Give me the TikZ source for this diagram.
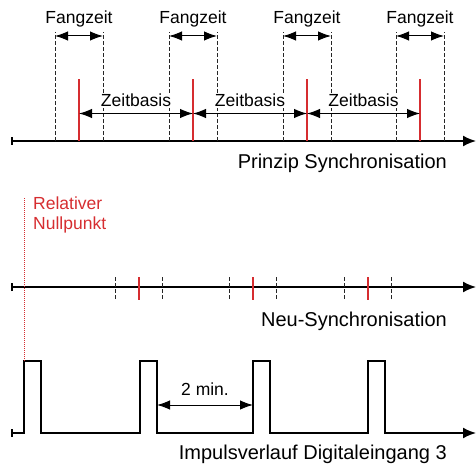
\documentclass[tikz,border=0pt]{standalone}
\usepackage{fontspec}
\setmainfont{Liberation Sans}
\usepackage{xcolor}
\usetikzlibrary{arrows.meta,calc}

\definecolor{syncred}{RGB}{214,45,48}

\tikzset{
  timeaxis/.style={line width=1.8pt,{Bar[width=8pt]}-{Latex[length=13pt,width=11pt]}},
  redline/.style={syncred,line width=1.5pt},
  fangline/.style={black!85,line width=0.9pt,dash pattern=on 3.5pt off 2.5pt},
  dimarrow/.style={line width=1pt,{Latex[length=13pt,width=9.5pt]}-{Latex[length=13pt,width=9.5pt]}},
  lbl/.style={font=\fontsize{17.5}{19.5}\selectfont,inner sep=1pt},
  biglbl/.style={font=\fontsize{20}{22}\selectfont,inner sep=0pt},
}

\begin{document}
\begin{tikzpicture}[x=1pt,y=-1pt]

\useasboundingbox (0,0) rectangle (476,465);

% Levels
\coordinate (ftop) at (0,32);
\coordinate (fz) at (0,36);
\coordinate (flabel) at (0,23.5);
\coordinate (rtop) at (0,79);
\coordinate (zb) at (0,113.5);
\coordinate (zlabel) at (0,106.5);
\coordinate (mtop) at (0,277);
\coordinate (mbot) at (0,300);
\coordinate (hi) at (0,361);
\coordinate (twomin) at (0,405);
\coordinate (tlabel) at (0,395);

% Axes
\coordinate (a1) at (11,141);
\coordinate (a1e) at (476,141);
\coordinate (a2) at (11,287);
\coordinate (a2e) at (476,287);
\draw[timeaxis] (a1) -- (a1e);
\draw[timeaxis] (a2) -- (a2e);

% Prinzip: Fangzeit windows round each sync point
\foreach \i/\x in {1/79,2/193,3/307,4/420}{
  \coordinate (r\i) at (\x,141);
  \coordinate (fl\i) at ({\x-24},141);
  \coordinate (fr\i) at ({\x+24},141);
  \draw[fangline] (fl\i) -- (fl\i |- ftop);
  \draw[fangline] (fr\i) -- (fr\i |- ftop);
  \draw[redline] (r\i) -- (r\i |- rtop);
  \draw[dimarrow] (fl\i |- fz) -- (fr\i |- fz);
  \node[lbl,anchor=base] (fang\i) at (r\i |- flabel) {Fangzeit};
}

% Zeitbasis between sync points
\foreach \i/\j in {1/2,2/3,3/4}{
  \draw[dimarrow] (r\i |- zb) -- (r\j |- zb);
  \node[lbl,fill=white,anchor=base] (zeit\i) at ($(r\i |- zlabel)!0.5!(r\j |- zlabel)$) {Zeitbasis};
}

\node[biglbl,anchor=base east] (prinzip) at (447,169) {Prinzip Synchronisation};

% Neu-Synchronisation
\foreach \i/\x in {1/139,2/253,3/368}{
  \coordinate (m\i) at (\x,287);
  \draw[fangline] ({\x-23.5},277) -- ({\x-23.5},300);
  \draw[fangline] ({\x+23.5},277) -- ({\x+23.5},300);
  \draw[redline] (m\i |- mtop) -- (m\i |- mbot);
}

\node[biglbl,anchor=base east] (neusync) at (447,326) {Neu-Synchronisation};

% Impulse
\coordinate (imp0) at (11,433);
\coordinate (impe) at (476,433);
\foreach \i/\x in {1/24,2/140,3/253,4/368}{
  \coordinate (u\i) at (\x,433);
  \coordinate (d\i) at ({\x+17},433);
}
\draw[timeaxis,line join=miter] (imp0) -- (u1) -- (u1 |- hi) -- (d1 |- hi) -- (d1)
  -- (u2) -- (u2 |- hi) -- (d2 |- hi) -- (d2)
  -- (u3) -- (u3 |- hi) -- (d3 |- hi) -- (d3)
  -- (u4) -- (u4 |- hi) -- (d4 |- hi) -- (d4) -- (impe);

% Relativer Nullpunkt
\coordinate (null) at (24,198);
\draw[syncred,line width=1pt,dash pattern=on 1pt off 1pt] (null) -- (u1 |- hi);
\node[lbl,syncred,align=left,anchor=north west] (nullpunkt) at (32,196) {Relativer\\Nullpunkt};

% 2 min.
\draw[dimarrow] (d2 |- twomin) -- (u3 |- twomin);
\node[lbl,anchor=base] (zwei) at ($(d2 |- tlabel)!0.5!(u3 |- tlabel)$) {2 min.};

\node[biglbl,anchor=base east] (impuls) at (447,459.5) {Impulsverlauf Digitaleingang 3};

\end{tikzpicture}
\end{document}
